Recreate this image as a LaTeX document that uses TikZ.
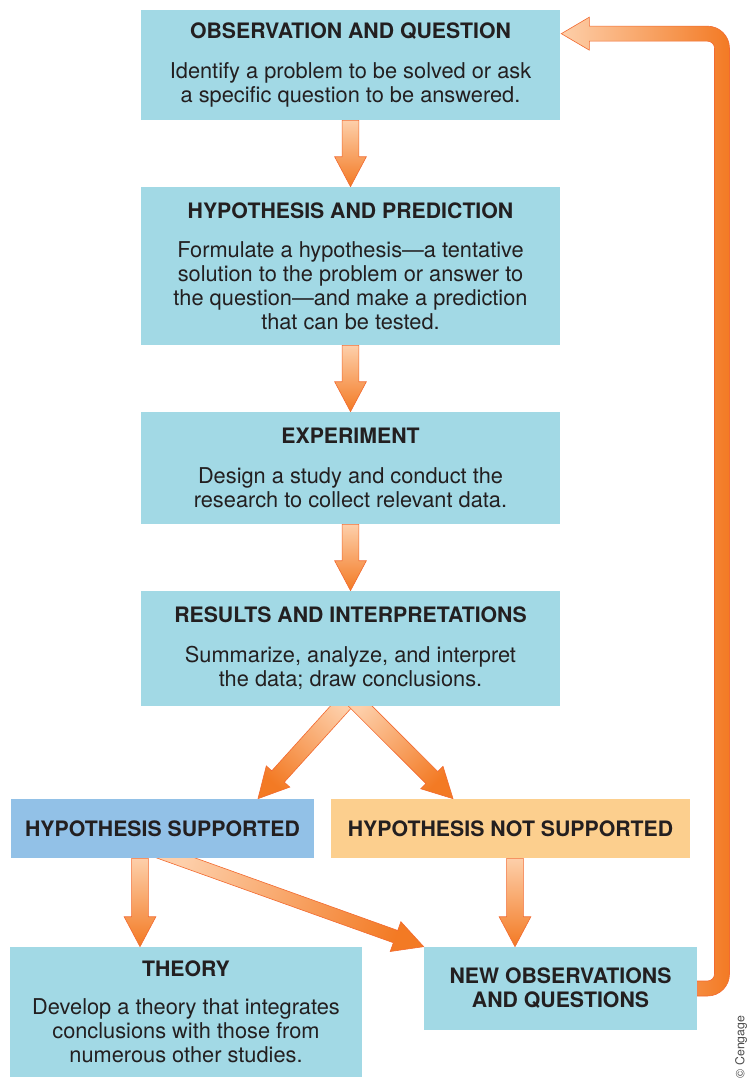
\documentclass[tikz,border=0pt]{standalone}
\usepackage{fontspec}
\setmainfont{TeX Gyre Heros}
\usetikzlibrary{calc,backgrounds}

% fat shaded arrow from #2 to #3, optional shaft half width #1
\newcommand\fatarrow[3][4.8pt]{%
  \coordinate (fa-s) at (#2);
  \coordinate (fa-e) at (#3);
  \path let \p1=($(fa-e)-(fa-s)$) in
    \pgfextra{\pgfmathsetmacro\faang{atan2(\y1,\x1)-90}\global\let\faang\faang};
  \coordinate (fa-h) at ($(fa-e)!17pt!(fa-s)$);
  \shade[fatarrow,shading angle=\faang]
    ($(fa-s)!#1!-90:(fa-e)$) -- ($(fa-h)!#1!-90:(fa-e)$) -- ($(fa-h)!9pt!-90:(fa-e)$)
    -- (fa-e) -- ($(fa-h)!9pt!90:(fa-e)$) -- ($(fa-h)!#1!90:(fa-e)$)
    -- ($(fa-s)!#1!90:(fa-e)$) -- cycle;
}
\newcommand\stagetitle[1]{{\fontsize{12.1}{13.6}\selectfont\bfseries #1}}

\begin{document}
\begin{tikzpicture}[x=0.02cm,y=-0.02cm,font=\fontsize{12.4}{13.6}\selectfont]
  \definecolor{stagecyan}{HTML}{A2D9E5}
  \definecolor{stageblue}{HTML}{92C1E7}
  \definecolor{stagepeach}{HTML}{FCCF8E}
  \definecolor{stagetext}{HTML}{231F20}
  \definecolor{arrlight}{HTML}{FDCFAA}
  \definecolor{arrdark}{HTML}{F37A24}
  \definecolor{arrline}{HTML}{F26A30}
  \tikzset{
    stage/.style={fill=stagecyan,text=stagetext,align=center,inner sep=0pt,
      minimum width=8.38cm},
    fatarrow/.style={shading=axis,top color=arrdark,bottom color=arrlight,
      draw=arrline,line width=0.35pt},
  }
  \useasboundingbox (0,0) rectangle (749,1079);

  % main column
  \node[stage,minimum height=2.2cm] (obs) at (350.5,65)
    {\stagetitle{OBSERVATION AND QUESTION}\\[9pt]
     Identify a problem to be solved or ask\\a specific question to be answered.};
  \node[stage,minimum height=3.16cm] (hyp) at (350.5,266)
    {\stagetitle{HYPOTHESIS AND PREDICTION}\\[9pt]
     Formulate a hypothesis---a tentative\\solution to the problem or answer to\\
     the question---and make a prediction\\that can be tested.};
  \node[stage,minimum height=2.24cm] (exp) at (350.5,468)
    {\stagetitle{EXPERIMENT}\\[9pt]
     Design a study and conduct the\\research to collect relevant data.};
  \node[stage,minimum height=2.3cm] (res) at (350.5,648.5)
    {\stagetitle{RESULTS AND INTERPRETATIONS}\\[9pt]
     Summarize, analyze, and interpret\\the data; draw conclusions.};

  % outcomes
  \node[stage,fill=stageblue,minimum width=6.06cm,minimum height=1.18cm] (sup)
    at (162.5,828.5) {\stagetitle{HYPOTHESIS SUPPORTED}};
  \node[stage,fill=stagepeach,minimum width=7.18cm,minimum height=1.18cm] (nsup)
    at (510.5,828.5) {\stagetitle{HYPOTHESIS NOT SUPPORTED}};
  \node[stage,minimum width=7.04cm,minimum height=2.6cm] (theory) at (186,1012)
    {\stagetitle{THEORY}\\[8pt]
     Develop a theory that integrates\\conclusions with those from\\
     numerous other studies.};
  \node[stage,minimum width=5.46cm,minimum height=1.66cm] (newobs) at (560.5,988.5)
    {\stagetitle{NEW OBSERVATIONS}\\\stagetitle{AND QUESTIONS}};

  \node[rotate=90,text=black!70,font=\fontsize{7}{8}\selectfont] (credit)
    at (741,1047) {© Cengage};

  \begin{scope}[on background layer]
    \fatarrow{obs.south}{hyp.north}
    \fatarrow{hyp.south}{exp.north}
    \fatarrow{exp.south}{res.north}
    \fatarrow{$(res.south)+(0,-10)$}{$(sup.north)+(95.5,0)$}
    \fatarrow{$(res.south)+(0,-10)$}{$(nsup.north)+(-57.5,0)$}
    \fatarrow{$(sup.south)+(-22.5,0)$}{$(theory.north)+(-46,0)$}
    \fatarrow[3.7pt]{$(sup.south)+(-5,-7)$}{newobs.north west}
    \fatarrow{$(nsup.south)+(4.5,0)$}{$(newobs.north)+(-45.5,0)$}

    % return path back to the top
    \coordinate (ret-s) at (newobs.east);
    \coordinate (ret-t) at ($(obs.north east)+(1,24)$);
    \coordinate (ret-col) at (722,0);
    \shade[left color=arrlight,right color=arrdark,draw=arrline,line width=0.35pt]
      ($(ret-s)+(0,7.5)$) [rounded corners=0.44cm]
      -- ($(ret-s -| ret-col)+(7.5,7.5)$)
      -- ($(ret-t -| ret-col)+(7.5,-7.5)$) [sharp corners]
      -- ($(ret-t)+(28,-7.5)$) -- ($(ret-t)+(28,-16.5)$) -- (ret-t)
      -- ($(ret-t)+(28,16.5)$) -- ($(ret-t)+(28,7.5)$) [rounded corners=0.14cm]
      -- ($(ret-t -| ret-col)+(-7.5,7.5)$)
      -- ($(ret-s -| ret-col)+(-7.5,-7.5)$) [sharp corners]
      -- ($(ret-s)+(0,-7.5)$) -- cycle;
  \end{scope}
\end{tikzpicture}
\end{document}
